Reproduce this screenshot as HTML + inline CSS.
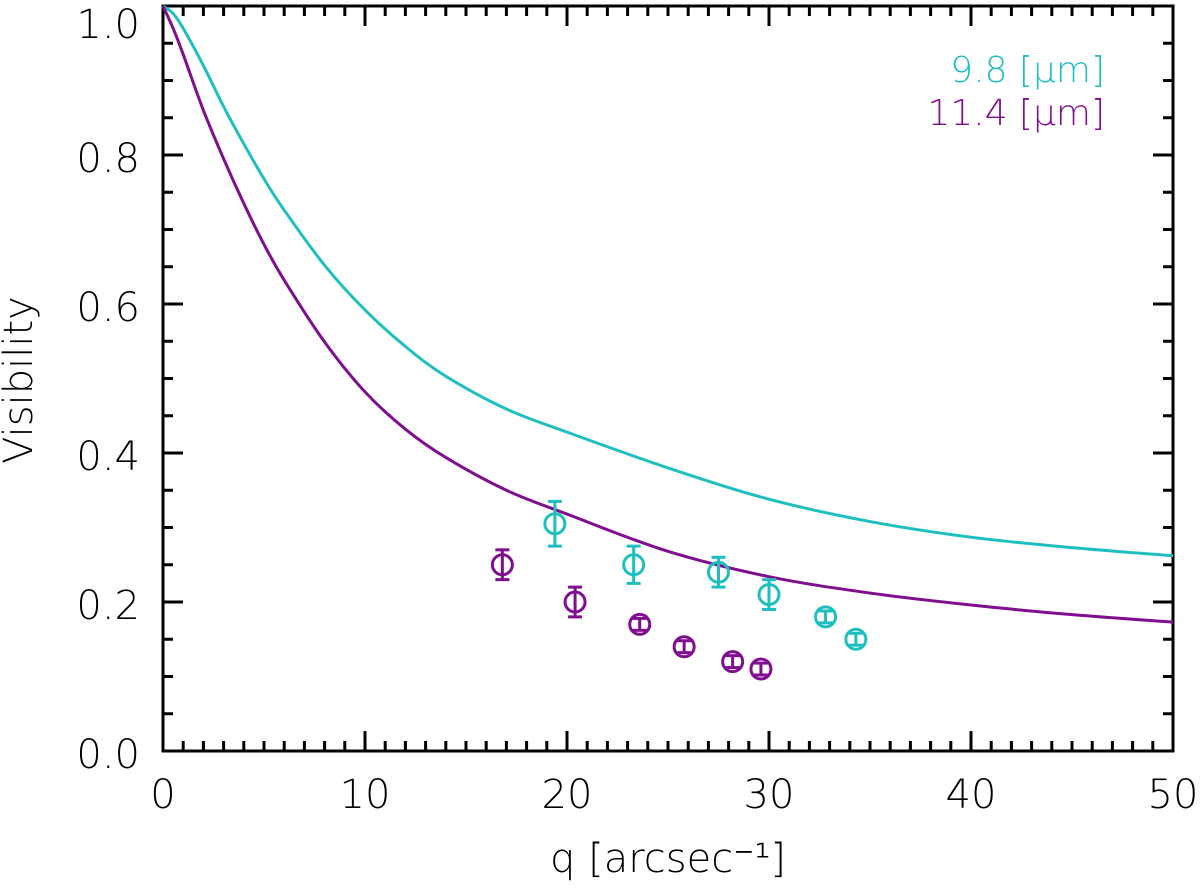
<!DOCTYPE html>
<html><head><meta charset="utf-8"><style>
body{margin:0;background:#fff}
svg text{font-family:"DejaVu Sans","Liberation Sans",sans-serif;font-weight:200}
</style></head><body>
<svg id="chart" width="1200" height="890" xmlns="http://www.w3.org/2000/svg"></svg>
<script>
const curveQ=[0,0.5,1,2,3,4,5,6,8,10,12,14,17,20,25,30,35,40,45,50];
const curveCyan=[1.0,0.99,0.97,0.92,0.865,0.815,0.768,0.726,0.652,0.592,0.543,0.503,0.459,0.428,0.38,0.338,0.308,0.287,0.273,0.262];
const curvePurple=[1.0,0.97,0.935,0.86,0.795,0.735,0.68,0.632,0.549,0.482,0.432,0.394,0.35,0.318,0.268,0.234,0.212,0.196,0.183,0.173];
const purpleQ=[16.8,20.4,23.6,25.8,28.2,29.6];
const purpleV=[0.25,0.20,0.17,0.14,0.12,0.11];
const purpleE=[0.02,0.02,0.008,0.008,0.008,0.008];
const cyanQ=[19.4,23.3,27.5,30.0,32.8,34.3];
const cyanV=[0.305,0.25,0.24,0.21,0.18,0.15];
const cyanE=[0.03,0.025,0.02,0.02,0.008,0.008];
const xTicks=[0,10,20,30,40,50];
const yTicks=["0.0","0.2","0.4","0.6","0.8","1.0"];
const L=163,R=1173,T=6,B=751;
const X=q=>L+(R-L)*q/50, Y=v=>B-(B-T)*v;
const CY="#1fbfbf",PU="#7f0f8f";
const svg=document.getElementById('chart');const NS="http://www.w3.org/2000/svg";
function mk(tag,attrs,parent){const e=document.createElementNS(NS,tag);for(const k in attrs)e.setAttribute(k,attrs[k]);(parent||svg).appendChild(e);return e;}
const frame=mk('rect',{x:L,y:T,width:R-L,height:B-T,fill:'none',stroke:'#000','stroke-width':3});


for(let i=0;i<=50;i++){const x=X(i),len=i%10==0?20:10;
 const t1=mk('line',{x1:x,y1:B,x2:x,y2:B-len,stroke:'#000','stroke-width':3});
 
 
 const t2=mk('line',{x1:x,y1:T,x2:x,y2:T+len,stroke:'#000','stroke-width':3});
 
 }
for(let i=0;i<=20;i++){const y=Y(i*0.05),len=i%4==0?20:10;
 const t1=mk('line',{x1:L,y1:y,x2:L+len,y2:y,stroke:'#000','stroke-width':3});
 
 
 const t2=mk('line',{x1:R,y1:y,x2:R-len,y2:y,stroke:'#000','stroke-width':3});
 
 }
xTicks.forEach(q=>{const t=mk('text',{x:X(q),y:808,'font-size':40,'text-anchor':'middle'});t.textContent=q;
 
 });
yTicks.forEach(s=>{const yy=Math.max(Y(+s)+17,38);const t=mk('text',{x:140,y:yy,'font-size':40,'text-anchor':'end'});t.textContent=s;
 
 });
const xt=mk('text',{x:668,y:872,'font-size':40,'text-anchor':'middle'});xt.textContent='q [arcsec⁻¹]';


const yt=mk('text',{x:32,y:380,'font-size':40,'text-anchor':'middle',transform:'rotate(-90 32 380)'});yt.textContent='Visibility';


function curve(vals,col,name){
 const P=curveQ.map((q,i)=>[X(q),Y(vals[i])]);
 let d='M'+P[0][0]+','+P[0][1];
 for(let i=0;i<P.length-1;i++){const p0=P[Math.max(i-1,0)],p1=P[i],p2=P[i+1],p3=P[Math.min(i+2,P.length-1)];
  const c1=[p1[0]+(p2[0]-p0[0])/6,p1[1]+(p2[1]-p0[1])/6],c2=[p2[0]-(p3[0]-p1[0])/6,p2[1]-(p3[1]-p1[1])/6];
  d+=' C'+c1.join(',')+' '+c2.join(',')+' '+p2.join(',');}
 const p=mk('path',{d:d,fill:'none',stroke:col,'stroke-width':3,'stroke-linejoin':'round'});
 
 }
curve(curveCyan,CY,'model-curve-9.8um');curve(curvePurple,PU,'model-curve-11.4um');
function pts(qs,vs,es,col,name){qs.forEach((q,i)=>{const x=X(q),y=Y(vs[i]),e=(B-T)*es[i];
 const g=mk('g',{stroke:col,'stroke-width':3,fill:'none'});
 
 
 mk('circle',{cx:x,cy:y,r:10},g);
 mk('line',{x1:x,y1:y-e,x2:x,y2:y+e},g);
 mk('line',{x1:x-7,y1:y-e,x2:x+7,y2:y-e},g);
 mk('line',{x1:x-7,y1:y+e,x2:x+7,y2:y+e},g);});}
pts(purpleQ,purpleV,purpleE,PU,'data-point-11.4um');pts(cyanQ,cyanV,cyanE,CY,'data-point-9.8um');
const l1=mk('text',{x:1105,y:82,'font-size':36,'text-anchor':'end',fill:CY});l1.textContent='9.8 [μm]';


const l2=mk('text',{x:1105,y:125,'font-size':36,'text-anchor':'end',fill:PU});l2.textContent='11.4 [μm]';


</script>
</body></html>
